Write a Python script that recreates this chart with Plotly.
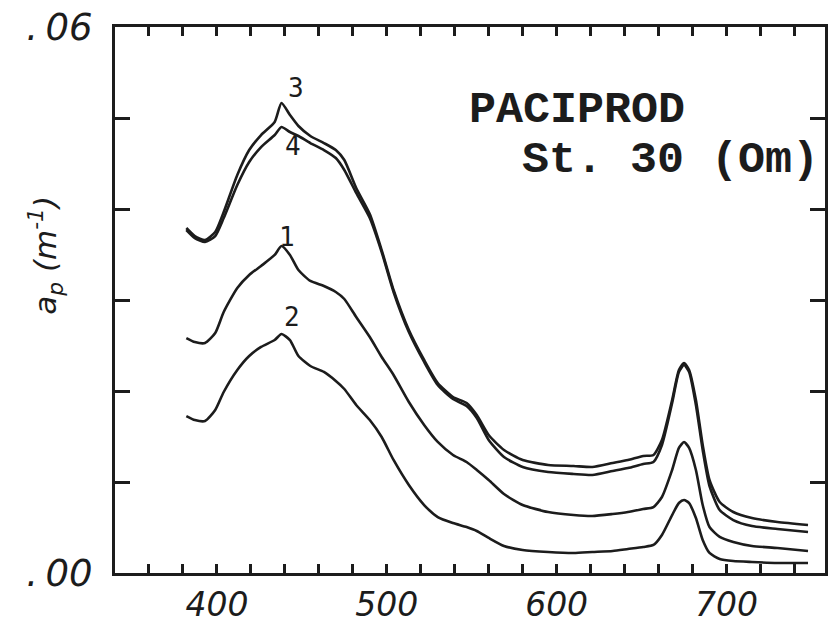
import plotly.graph_objects as go

# Particle absorption spectra, PACIPROD station 30, surface samples
wavelength = [382, 387, 393, 399, 404, 412, 419, 426, 434, 438, 443, 448, 455, 463,
              470, 475, 482, 490, 497, 504, 513, 522, 530, 539, 547, 553, 560, 569,
              580, 595, 610, 621, 633, 642, 651, 657, 662, 668, 672, 675, 678, 682,
              686, 690, 696, 704, 715, 730, 748]

ap_1 = [.02582, .02538, .02527, .02637, .02868, .03132, .03275, .03374, .03495, .03593,
        .03495, .03330, .03209, .03154, .03088, .03011, .02813, .02593, .02374, .02176,
        .01879, .01626, .01440, .01297, .01220, .01132, .01022, .00868, .00747, .00670,
        .00637, .00626, .00648, .00670, .00703, .00725, .00835, .01132, .01374, .01440,
        .01374, .01132, .00747, .00505, .00396, .00341, .00297, .00275, .00242]

ap_2 = [.01725, .01681, .01670, .01791, .01989, .02231, .02385, .02484, .02560, .02626,
        .02560, .02385, .02275, .02209, .02110, .02022, .01846, .01681, .01495, .01242,
        .00967, .00747, .00615, .00549, .00505, .00462, .00385, .00297, .00253, .00231,
        .00220, .00231, .00242, .00264, .00286, .00308, .00418, .00637, .00769, .00802,
        .00769, .00604, .00363, .00220, .00154, .00132, .00121, .00110, .00110]

ap_3 = [.03791, .03703, .03659, .03747, .03967, .04374, .04648, .04813, .04956, .05165,
        .05033, .04912, .04802, .04725, .04648, .04538, .04231, .03945, .03549, .03110,
        .02670, .02341, .02088, .01934, .01868, .01736, .01516, .01352, .01242, .01187,
        .01176, .01165, .01209, .01242, .01286, .01297, .01462, .01901, .02231, .02308,
        .02231, .01901, .01407, .01022, .00780, .00670, .00604, .00560, .00527]

ap_4 = [.03769, .03681, .03637, .03703, .03901, .04264, .04516, .04681, .04813, .04901,
        .04846, .04802, .04725, .04648, .04560, .04429, .04176, .03901, .03527, .03088,
        .02648, .02319, .02066, .01912, .01835, .01703, .01462, .01275, .01165, .01110,
        .01088, .01077, .01121, .01154, .01198, .01220, .01407, .01868, .02209, .02286,
        .02209, .01846, .01352, .00956, .00692, .00582, .00516, .00484, .00451]

series = {"1": ap_1, "2": ap_2, "3": ap_3, "4": ap_4}

# curve number labels placed near the blue absorption maximum
label_names = ["3", "4", "1", "2"]
label_x = [446.5, 445.0, 441.5, 444.0]
label_y = [.0533, .0469, .0369, .0281]

x_ticks = [400, 500, 600, 700]
x_ticktext = ["400", "500", "600", "700"]
y_ticks = [0.00, 0.06]
y_ticktext = [".\u200900", ".\u200906"]

ink = "#1c1c1c"

fig = go.Figure()
for name, vals in series.items():
    fig.add_trace(go.Scatter(
        x=wavelength, y=vals, mode="lines", name=name,
        line=dict(color=ink, width=2.6, shape="spline", smoothing=0.6),
        showlegend=False, hoverinfo="skip",
    ))

for t, lx, ly in zip(label_names, label_x, label_y):
    fig.add_annotation(x=lx, y=ly, xref="x", yref="y", text=t, showarrow=False,
                       font=dict(family="DejaVu Sans Mono", size=26, color=ink),
                       xanchor="center", yanchor="middle")

mono = dict(family="Liberation Mono", size=45, color=ink, weight="bold")
fig.add_annotation(x=0.496, y=0.847, xref="paper", yref="paper", text="PACIPROD",
                   showarrow=False, font=mono, xanchor="left", yanchor="middle")
fig.add_annotation(x=0.571, y=0.756, xref="paper", yref="paper",
                   text="St.\u00a030\u00a0(Om)",
                   showarrow=False, font=mono, xanchor="left", yanchor="middle")

fig.add_annotation(x=-0.098, y=0.582, xref="paper", yref="paper",
                   text="a<sub>p</sub> (m<sup>-1</sup>)", textangle=-90, showarrow=False,
                   font=dict(family="DejaVu Sans", size=31, color=ink, style="italic"),
                   xanchor="center", yanchor="middle")

fig.update_xaxes(range=[340, 758], tickmode="array", tickvals=x_ticks, ticktext=x_ticktext,
                 ticks="inside", ticklen=9, tickwidth=2.5, tickcolor=ink,
                 minor=dict(tick0=360, dtick=20, ticks="inside", ticklen=9,
                            tickwidth=2.5, tickcolor=ink, showgrid=False),
                 showline=True, linewidth=3, linecolor=ink, mirror="ticks",
                 showgrid=False, zeroline=False,
                 tickfont=dict(family="DejaVu Sans", size=33, color=ink, style="italic"))
fig.update_yaxes(range=[0, 0.06], tickmode="array", tickvals=y_ticks, ticktext=y_ticktext,
                 ticks="inside", ticklen=15, tickwidth=2.5, tickcolor=ink,
                 minor=dict(tick0=0, dtick=0.01, ticks="inside", ticklen=15,
                            tickwidth=2.5, tickcolor=ink, showgrid=False),
                 showline=True, linewidth=3, linecolor=ink, mirror="ticks",
                 showgrid=False, zeroline=False, ticklabelstandoff=12,
                 tickfont=dict(family="DejaVu Sans", size=37, color=ink, style="italic"))

fig.update_layout(width=831, height=629, margin=dict(l=115, r=3, t=27, b=56),
                  paper_bgcolor="white", plot_bgcolor="white")

fig.write_html("out.html")
